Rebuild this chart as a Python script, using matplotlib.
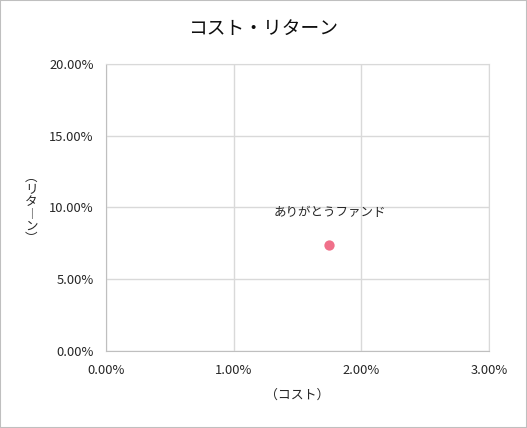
import matplotlib
matplotlib.use("Agg")
import matplotlib.pyplot as plt
from matplotlib.ticker import FuncFormatter, MultipleLocator
from matplotlib.patches import Rectangle

plt.rcParams['font.family'] = ['Noto Sans CJK JP', 'DejaVu Sans']

# data (cost %, return %)
fund_names = ["ありがとうファンド"]
cost_pct = [1.75]
return_pct = [7.4]

x_ticks_max = 3.0
y_ticks_max = 20.0

fig = plt.figure(figsize=(5.27, 4.28), dpi=100)
ax = fig.add_axes([106 / 527, 1 - 351 / 428, 383 / 527, 287 / 428])

ax.scatter(cost_pct, return_pct, s=55, color="#f0708a", zorder=3, linewidths=0)
for name, x, y in zip(fund_names, cost_pct, return_pct):
    ax.annotate(name, (x, y), xytext=(0, 23.5), textcoords="offset points",
                ha="center", va="center", fontsize=9, color="#262626")

ax.set_xlim(0, x_ticks_max)
ax.set_ylim(0, y_ticks_max)
ax.xaxis.set_major_locator(MultipleLocator(1.0))
ax.yaxis.set_major_locator(MultipleLocator(5.0))
fmt = FuncFormatter(lambda v, p: f"{v:.2f}%")
ax.xaxis.set_major_formatter(fmt)
ax.yaxis.set_major_formatter(fmt)
ax.tick_params(length=0, labelsize=9.3, colors="#262626", pad=9)

ax.grid(True, color="#d9d9d9", linewidth=1)
ax.set_axisbelow(True)
for side in ["top", "right"]:
    ax.spines[side].set_color("#d9d9d9")
for side in ["left", "bottom"]:
    ax.spines[side].set_color("#bfbfbf")

fig.text(263 / 527, 1 - 28 / 428, "コスト・リターン", ha="center", va="center",
         fontsize=13.5, color="#0d0d0d")
fig.text(297 / 527, 1 - 395 / 428, "（コスト）", ha="center", va="center",
         fontsize=9.3, color="#262626")
# vertical stacked y label
fig.text(31 / 527, 1 - 208 / 428, "︵\nリ\nタ\n︱\nン\n︶", ha="center", va="center",
         fontsize=9, color="#262626", linespacing=0.92)

# outer border
fig.patches.append(Rectangle((0, 0), 1, 1, transform=fig.transFigure, fill=False,
                             edgecolor="#bfbfbf", linewidth=1.5))

fig.savefig("out.png", dpi=100)
